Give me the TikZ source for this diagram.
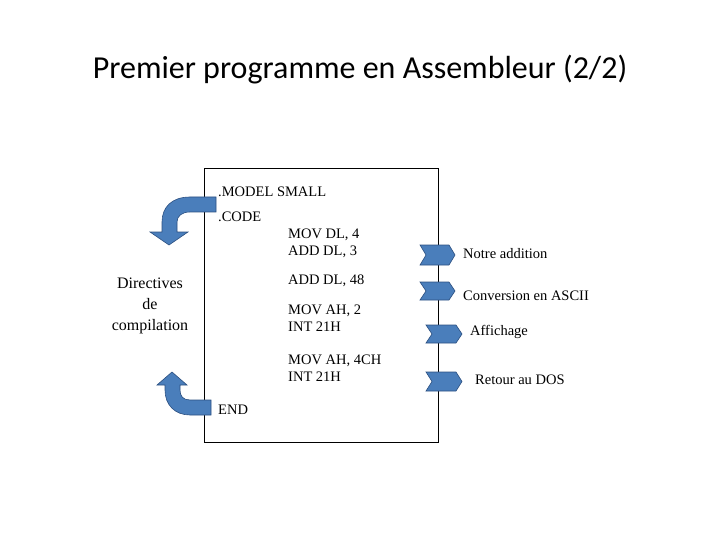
\documentclass[tikz,border=0pt]{standalone}
\usepackage{fontspec}
\setmainfont{Liberation Serif}
\newfontfamily\titlefont{Carlito}
\definecolor{af}{HTML}{4A7EBB}
\definecolor{ad}{HTML}{2B4F80}
\begin{document}
\begin{tikzpicture}[x=1pt,y=-1pt,
  txt/.style={anchor=west,font=\fontsize{14.5}{17}\selectfont,inner sep=0},
  shp/.style={fill=af,draw=ad,line width=0.6pt,line join=miter}]
\useasboundingbox (0,0) rectangle (720,540);
\node[font=\titlefont\fontsize{32}{38}\selectfont] (title) at (360,70) {Premier programme en Assembleur (2/2)};
\draw[line width=0.8pt] (204,168) rectangle (438,442);
\node[txt] (m) at (218,192) {.MODEL SMALL};
\node[txt] (c) at (218,217) {.CODE};
\node[txt,align=left,anchor=north west] (a1) at (288,229) {MOV DL, 4\\ADD DL, 3};
\node[txt] (a2) at (288,281) {ADD DL, 48};
\node[txt,align=left,anchor=north west] (a3) at (288,305) {MOV AH, 2\\INT 21H};
\node[txt,align=left,anchor=north west] (a4) at (288,355) {MOV AH, 4CH\\INT 21H};
\node[txt] (e) at (218,410) {END};
\node[font=\fontsize{16}{21}\selectfont,align=center] (d) at (150,306) {Directives\\de\\compilation};
\node[txt] (n1) at (463,254) {Notre addition};
\node[txt] (n2) at (463,296) {Conversion en ASCII};
\node[txt] (n3) at (470,332) {Affichage};
\node[txt] (n4) at (475,380) {Retour au DOS};
\filldraw[shp] (216,197) -- (190,197) .. controls (172,197) and (162,207) .. (162,222) -- (162,232) -- (150,232) -- (169,245) -- (188,232) -- (177,232) -- (177,222) .. controls (177,216) and (182,212) .. (190,212) -- (216,212) -- cycle;
\filldraw[shp] (211,400) -- (190,400) .. controls (183,400) and (180,396) .. (180,390) -- (180,385) -- (187,385) -- (172,372) -- (157,385) -- (165,385) -- (165,390) .. controls (165,405) and (175,415) .. (190,415) -- (211,415) -- cycle;
\foreach \xa/\xb/\ya/\yb in {420/455/245/265, 420/455/282/300, 426/462/325/343, 426/462/372/391}{
  \filldraw[shp] (\xa,\ya) -- (\xb-6,\ya) -- (\xb,{(\ya+\yb)/2}) -- (\xb-6,\yb) -- (\xa,\yb) -- (\xa+6,{(\ya+\yb)/2}) -- cycle;
}
\end{tikzpicture}
\end{document}
